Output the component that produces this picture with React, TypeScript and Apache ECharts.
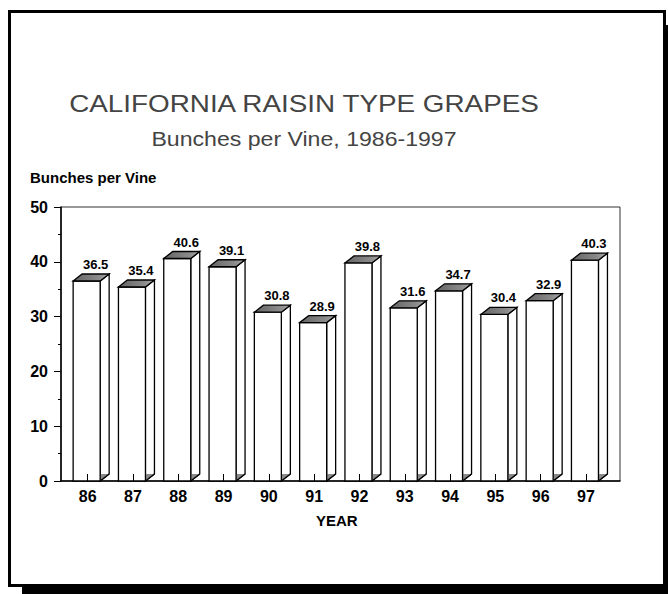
import React, { useEffect, useRef } from "react";
import * as echarts from "echarts";

const years = ["86", "87", "88", "89", "90", "91", "92", "93", "94", "95", "96", "97"];
const bunchesPerVine = [36.5, 35.4, 40.6, 39.1, 30.8, 28.9, 39.8, 31.6, 34.7, 30.4, 32.9, 40.3];
const yMin = 0;
const yMax = 50;
const yInterval = 10;

const titleText = "CALIFORNIA RAISIN TYPE GRAPES";
const subtitleText = "Bunches per Vine, 1986-1997";
const yAxisName = "Bunches per Vine";
const xAxisName = "YEAR";

const FONT = "Liberation Sans, Arial, sans-serif";
const DX = 9;
const DY = 7;
const HALF_W = 13.5;

export default function App() {
  const ref = useRef<HTMLDivElement>(null);
  useEffect(() => {
    if (!ref.current) return;
    const chart = echarts.init(ref.current, undefined, { renderer: "svg" });
    const renderItem = (params: any, api: any) => {
      const i = api.value(0);
      const v = api.value(1);
      const top = api.coord([i, v]);
      const base = api.coord([i, 0]);
      const cx = top[0] - 1;
      const xL = cx - HALF_W;
      const xR = cx + HALF_W;
      const yT = top[1];
      const y0 = base[1];
      const stroke = { stroke: "#000", lineWidth: 1.3 };
      return {
        type: "group",
        children: [
          {
            type: "polygon",
            shape: { points: [[xR, yT], [xR + DX, yT - DY], [xR + DX, y0 - DY], [xR, y0]] },
            style: { fill: "#fff", ...stroke },
          },
          {
            type: "polygon",
            shape: { points: [[xR, y0], [xR, y0 - DY], [xR + DX, y0 - DY]] },
            style: { fill: "#8a8a8a" },
          },
          {
            type: "line",
            shape: { x1: xR, y1: y0, x2: xR + DX, y2: y0 - DY },
            style: { ...stroke },
          },
          {
            type: "rect",
            shape: { x: xL, y: yT, width: xR - xL, height: y0 - yT },
            style: { fill: "#fff", ...stroke },
          },
          {
            type: "polygon",
            shape: { points: [[xL, yT], [xL + DX, yT - DY], [xR + DX, yT - DY], [xR, yT]] },
            style: {
              fill: new echarts.graphic.LinearGradient(0, 0, 1, 0, [
                { offset: 0, color: "#646464" },
                { offset: 0.7, color: "#8a8a8a" },
                { offset: 1, color: "#aaaaaa" },
              ]),
              ...stroke,
            },
          },
          {
            type: "text",
            x: (xL + xR) / 2 + DX,
            y: yT - DY - 3,
            style: {
              text: Number(v).toFixed(1),
              align: "center",
              verticalAlign: "bottom",
              font: `bold 13px ${FONT}`,
              fill: "#000",
            },
          },
        ],
      };
    };

    chart.setOption({
      animation: false,
      backgroundColor: "#fff",
      graphic: [
        { type: "rect", shape: { x: 22, y: 587, width: 646, height: 7 }, style: { fill: "#000" } },
        { type: "rect", shape: { x: 666, y: 25, width: 2, height: 569 }, style: { fill: "#000" } },
        {
          type: "rect",
          shape: { x: 9.5, y: 11.5, width: 655, height: 574 },
          style: { fill: "none", stroke: "#000", lineWidth: 3 },
        },
        {
          type: "text",
          x: 304,
          y: 92,
          scaleX: 1.16,
          style: {
            text: titleText,
            align: "center",
            verticalAlign: "alphabetic",
            font: `24px ${FONT}`,
            fill: "#444",
          },
        },
        {
          type: "text",
          x: 304,
          y: 128,
          scaleX: 1.1,
          style: {
            text: subtitleText,
            align: "center",
            verticalAlign: "alphabetic",
            font: `21px ${FONT}`,
            fill: "#444",
          },
        },
        {
          type: "text",
          x: 30,
          y: 170,
          style: {
            text: yAxisName,
            align: "left",
            verticalAlign: "top",
            font: `bold 15px ${FONT}`,
            fill: "#000",
          },
        },
      ],
      grid: [
        { left: 61, top: 207, width: 559, height: 274, show: true, borderColor: "#333", borderWidth: 1 },
        { left: 65, top: 207, width: 543.6, height: 274 },
      ],
      xAxis: [
        {
          gridIndex: 0,
          type: "value",
          min: 0,
          max: 1,
          axisLine: { show: true, lineStyle: { color: "#000", width: 1.5 } },
          axisTick: { show: false },
          axisLabel: { show: false },
          splitLine: { show: false },
        },
        {
          gridIndex: 1,
          type: "category",
          data: years,
          z: 5,
          axisLine: { show: false },
          axisTick: { show: true, inside: true, length: 7, alignWithLabel: true, lineStyle: { color: "#000", width: 1 } },
          axisLabel: { color: "#000", fontSize: 16, fontWeight: "bold", fontFamily: FONT, margin: 7 },
          name: xAxisName,
          nameLocation: "middle",
          nameGap: 32,
          nameTextStyle: { color: "#000", fontSize: 15, fontWeight: "bold", fontFamily: FONT },
        },
      ],
      yAxis: [
        {
          gridIndex: 0,
          type: "value",
          min: yMin,
          max: yMax,
          interval: yInterval,
          axisLine: { show: true, lineStyle: { color: "#000", width: 1.5 } },
          axisTick: { show: true, length: 7, lineStyle: { color: "#000", width: 1 } },
          minorTick: { show: true, splitNumber: 2, length: 3, lineStyle: { color: "#000", width: 1 } },
          axisLabel: { color: "#000", fontSize: 16, fontWeight: "bold", fontFamily: FONT, margin: 13 },
          splitLine: { show: false },
        },
        { gridIndex: 1, type: "value", min: yMin, max: yMax, show: false },
      ],
      series: [
        {
          type: "custom",
          xAxisIndex: 1,
          yAxisIndex: 1,
          renderItem,
          encode: { x: 0, y: 1 },
          data: bunchesPerVine.map((v, i) => [i, v]),
          clip: false,
        },
      ],
    });
    return () => chart.dispose();
  }, []);
  return (
    <div
      ref={ref}
      style={{ position: "absolute", left: 0, top: 0, width: 668, height: 594 }}
    />
  );
}
